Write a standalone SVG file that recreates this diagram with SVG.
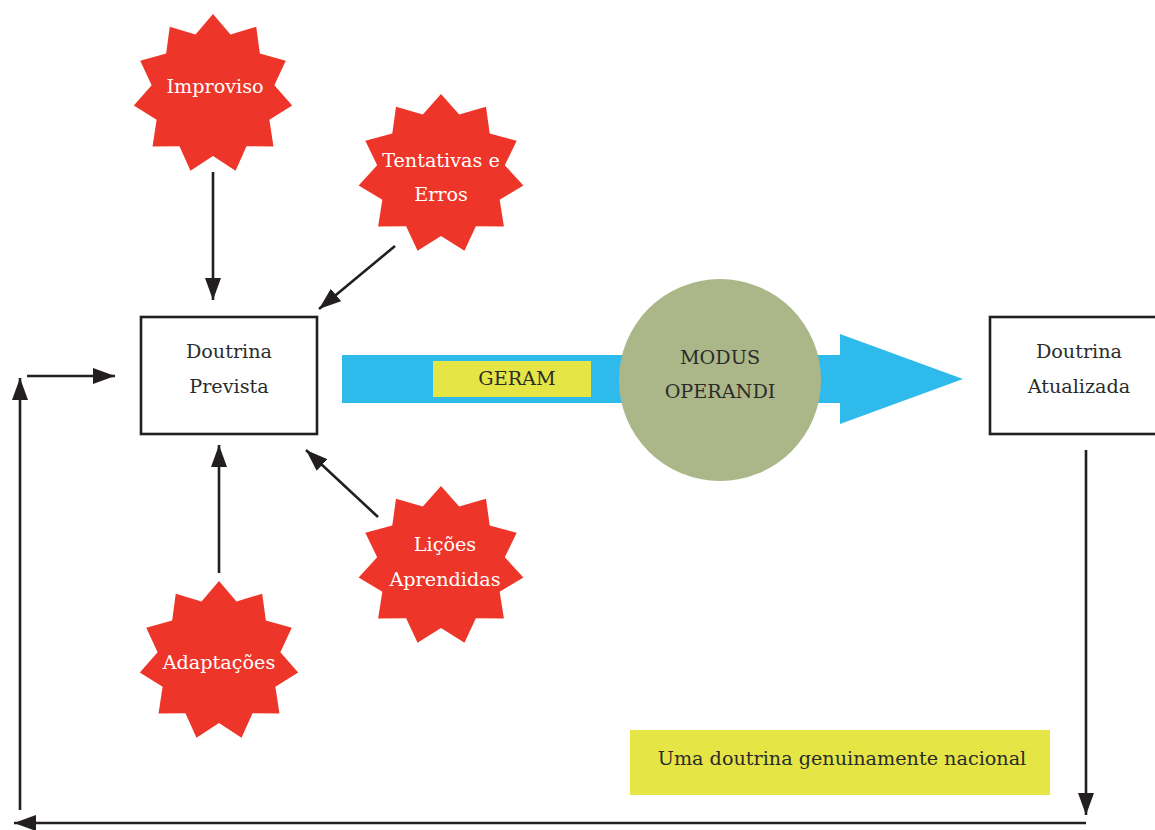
<svg xmlns="http://www.w3.org/2000/svg" width="1155" height="830" viewBox="0 0 1155 830">
<style>
.star{fill:#ee3529}
.st{font-family:"DejaVu Serif","Liberation Serif",serif;font-size:19.2px;fill:#ffffff;text-anchor:middle}
.dk{font-family:"DejaVu Serif","Liberation Serif",serif;font-size:19.2px;fill:#2b2b2b;text-anchor:middle}
.box{fill:#ffffff;stroke:#231f20;stroke-width:2.6}
.ln{fill:none;stroke:#231f20;stroke-width:2.6}
</style>
<defs>
<polygon id="star11" points="0,-80 17.47,-59.49 43.25,-67.3 46.85,-40.6 72.77,-33.23 61.37,-8.82 79.18,11.38 56.4,25.75 60.46,52.39 33.52,52.16 22.54,76.76 0,62 -22.54,76.76 -33.52,52.16 -60.46,52.39 -56.4,25.75 -79.18,11.38 -61.37,-8.82 -72.77,-33.23 -46.85,-40.6 -43.25,-67.3 -17.47,-59.49"/>
<marker id="ah" markerUnits="userSpaceOnUse" markerWidth="24" markerHeight="18" refX="22" refY="8" orient="auto">
<path d="M0,0 L22,8 L0,16 z" fill="#231f20"/>
</marker>
</defs>
<rect width="1155" height="830" fill="#ffffff"/>

<g id="connectors">
<line class="ln" x1="213" y1="172" x2="213" y2="300" marker-end="url(#ah)"/>
<line class="ln" x1="395" y1="246" x2="319" y2="309" marker-end="url(#ah)"/>
<line class="ln" x1="219" y1="573" x2="219" y2="445" marker-end="url(#ah)"/>
<line class="ln" x1="378" y1="517" x2="306" y2="450" marker-end="url(#ah)"/>
<line class="ln" x1="27" y1="376" x2="115" y2="376" marker-end="url(#ah)"/>
<line class="ln" x1="1086" y1="450" x2="1086" y2="815" marker-end="url(#ah)"/>
<line class="ln" x1="1086" y1="823" x2="14" y2="823" marker-end="url(#ah)"/>
<line class="ln" x1="20" y1="810" x2="20" y2="378" marker-end="url(#ah)"/>
</g>

<g id="geram-arrow">
<rect x="342" y="355" width="500" height="48" fill="#2fbaec"/>
<polygon points="840,334 963,379 840,424" fill="#2fbaec"/>
</g>

<g id="geram">
<rect x="433" y="361" width="158" height="36" fill="#e5e545"/>
<text class="dk" x="517" y="385">GERAM</text>
</g>

<g id="modus">
<circle cx="720" cy="380" r="101" fill="#abb789"/>
<text class="dk" x="720" y="364">MODUS</text>
<text class="dk" x="720" y="398">OPERANDI</text>
</g>

<g id="improviso">
<use href="#star11" class="star" transform="translate(213,94)"/>
<text class="st" x="215" y="93">Improviso</text>
</g>

<g id="tentativas">
<use href="#star11" class="star" transform="translate(441,174) scale(1.04,1)"/>
<text class="st" x="441" y="167">Tentativas e</text>
<text class="st" x="441" y="201">Erros</text>
</g>

<g id="adaptacoes">
<use href="#star11" class="star" transform="translate(219,661)"/>
<text class="st" x="219" y="669">Adaptações</text>
</g>

<g id="licoes">
<use href="#star11" class="star" transform="translate(441,566) scale(1.04,1)"/>
<text class="st" x="445" y="551">Lições</text>
<text class="st" x="445" y="586">Aprendidas</text>
</g>

<g id="doutrina-prevista">
<rect class="box" x="141" y="317" width="176" height="117"/>
<text class="dk" x="229" y="358">Doutrina</text>
<text class="dk" x="229" y="393">Prevista</text>
</g>

<g id="doutrina-atualizada">
<rect class="box" x="990" y="317" width="178" height="117"/>
<text class="dk" x="1079" y="358">Doutrina</text>
<text class="dk" x="1079" y="393">Atualizada</text>
</g>

<g id="nacional">
<rect x="630" y="730" width="420" height="65" fill="#e5e545"/>
<text class="dk" x="842" y="765">Uma doutrina genuinamente nacional</text>
</g>
</svg>
